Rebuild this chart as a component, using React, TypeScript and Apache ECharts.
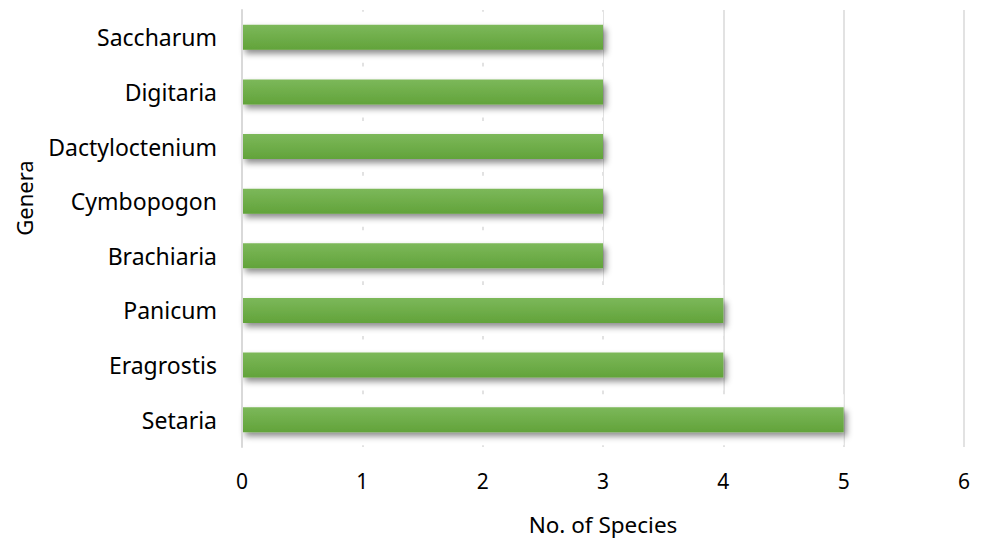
import React, { useEffect, useRef } from "react";
import * as echarts from "echarts";

const genera = ["Setaria", "Eragrostis", "Panicum", "Brachiaria", "Cymbopogon", "Dactyloctenium", "Digitaria", "Saccharum"];
const species = [5, 4, 4, 3, 3, 3, 3, 3];
const xTicks = [0, 1, 2, 3, 4, 5, 6];

const FONT = "Noto Sans";

export default function App() {
  const ref = useRef<HTMLDivElement>(null);
  useEffect(() => {
    if (!ref.current) return;
    const chart = echarts.init(ref.current, null, { renderer: "svg" });
    chart.setOption({
      animation: false,
      backgroundColor: "#ffffff",
      grid: { left: 242, right: 20, top: 10, bottom: 94, outerBoundsMode: "none", containLabel: false },
      xAxis: {
        type: "value",
        min: xTicks[0],
        max: xTicks[xTicks.length - 1],
        interval: 1,
        name: "No. of Species",
        nameLocation: "middle",
        nameGap: 66,
        nameTextStyle: { fontFamily: FONT, fontSize: 22.5, color: "#000" },
        axisLine: { show: false },
        axisTick: { show: false },
        axisLabel: { fontFamily: FONT, fontSize: 21, color: "#000", margin: 23 },
        splitLine: { show: true, lineStyle: { color: "#d9d9d9", width: 1.5 } },
      },
      yAxis: [
        {
          type: "category",
          data: genera,
          axisLine: { show: true, lineStyle: { color: "#d9d9d9", width: 2 } },
          axisTick: { show: false },
          axisLabel: { fontFamily: FONT, fontSize: 23, color: "#000", margin: 25 },
          z: 10,
        },
        {
          type: "category",
          data: genera,
          show: false,
        },
      ],
      graphic: [
        {
          type: "text",
          x: 24,
          y: 198,
          rotation: Math.PI / 2,
          style: {
            text: "Genera",
            font: `22px "${FONT}"`,
            fill: "#000",
            align: "center",
            verticalAlign: "middle",
          },
        },
      ],
      series: [
        {
          type: "bar",
          yAxisIndex: 1,
          data: species,
          barWidth: 51,
          itemStyle: { color: "#ffffff" },
          silent: true,
          z: 1,
        },
        {
          type: "bar",
          yAxisIndex: 0,
          data: species,
          barWidth: 25,
          z: 3,
          itemStyle: {
            color: new echarts.graphic.LinearGradient(0, 0, 0, 1, [
              { offset: 0, color: "#7cb85a" },
              { offset: 1, color: "#62a33a" },
            ]),
            shadowColor: "rgba(0,0,0,0.45)",
            shadowBlur: 6,
            shadowOffsetX: 3,
            shadowOffsetY: 4,
          },
        },
      ],
    });
    return () => chart.dispose();
  }, []);
  return (
    <div
      ref={ref}
      style={{ position: "absolute", left: 0, top: 0, width: 984, height: 541, overflow: "hidden" }}
    />
  );
}
